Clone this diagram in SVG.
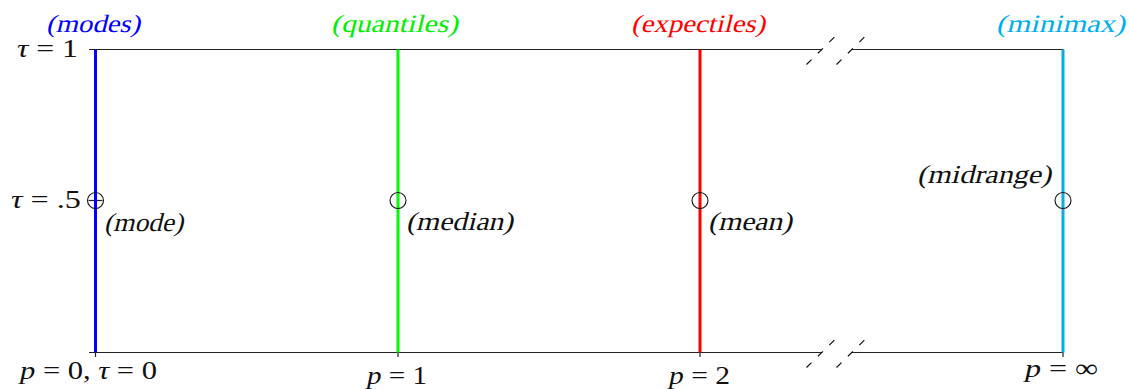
<svg xmlns="http://www.w3.org/2000/svg" width="1129" height="389" viewBox="0 0 1129 389">
<style>
text { font-family: "Liberation Serif", "Times New Roman", serif; font-size: 26px; fill: #111; }
.it { font-style: italic; }
.sk { font-style: normal; }
.top { font-size: 25px; }
.ax { stroke: #222; stroke-width: 1.2; fill: none; }
.brk { stroke: #111; stroke-width: 1.2; fill: none; stroke-dasharray: 7 9; }
.mk { stroke: #111; stroke-width: 1.1; fill: none; }
.v { stroke-width: 3; fill: none; }
</style>
<defs>
  <path id="slash" class="brk" d="M806.5,64.5 L834.5,37"/>
</defs>
<rect width="1129" height="389" fill="#fff"/>
<g id="connectors">
  <path class="ax" d="M89,49.5 H822 M851,49.5 H1063.5"/>
  <path class="ax" d="M89,352.5 H822 M851,352.5 H1063.5"/>
  <path class="ax" d="M88.5,200.5 H102.5"/>
  <path class="ax" d="M95.5,352.5 V357 M398,352.5 V357 M700,352.5 V357 M1063,352.5 V357"/>
  <use href="#slash"/>
  <use href="#slash" transform="translate(30,0)"/>
  <use href="#slash" transform="translate(0,303)"/>
  <use href="#slash" transform="translate(30,303)"/>
</g>
<g id="modes">
  <line class="v" x1="95.5" y1="49.5" x2="95.5" y2="352.5" stroke="#0000ff"/>
  <circle class="mk" cx="95.5" cy="200.5" r="8"/>
  <text class="sk top" transform="translate(46,32) skewX(-14)" textLength="94" lengthAdjust="spacingAndGlyphs" style="fill:#0000ff">(modes)</text>
  <text class="sk" transform="translate(104,231) skewX(-14)" textLength="79" lengthAdjust="spacingAndGlyphs">(mode)</text>
</g>
<g id="quantiles">
  <line class="v" x1="398" y1="49.5" x2="398" y2="352.5" stroke="#00ff00"/>
  <circle class="mk" cx="398" cy="200.5" r="8"/>
  <text class="sk top" transform="translate(331,32) skewX(-14)" textLength="127" lengthAdjust="spacingAndGlyphs" style="fill:#00ee00">(quantiles)</text>
  <text class="sk" transform="translate(406,230) skewX(-14)" textLength="107" lengthAdjust="spacingAndGlyphs">(median)</text>
</g>
<g id="expectiles">
  <line class="v" x1="700" y1="49.5" x2="700" y2="352.5" stroke="#ff0000"/>
  <circle class="mk" cx="700" cy="200.5" r="8"/>
  <text class="sk top" transform="translate(631,32) skewX(-14)" textLength="134" lengthAdjust="spacingAndGlyphs" style="fill:#ff0000">(expectiles)</text>
  <text class="sk" transform="translate(708,230) skewX(-14)" textLength="84" lengthAdjust="spacingAndGlyphs">(mean)</text>
</g>
<g id="minimax">
  <line class="v" x1="1063" y1="49.5" x2="1063" y2="352.5" stroke="#00aeef"/>
  <circle class="mk" cx="1063" cy="200.5" r="8"/>
  <text class="sk top" transform="translate(996,32) skewX(-14)" textLength="129" lengthAdjust="spacingAndGlyphs" style="fill:#00aeef">(minimax)</text>
  <text class="sk" transform="translate(917,183) skewX(-14)" textLength="134" lengthAdjust="spacingAndGlyphs">(midrange)</text>
</g>
<g id="labels">
  <text x="17" y="57" textLength="61" lengthAdjust="spacingAndGlyphs"><tspan class="it">τ</tspan> = 1</text>
  <text x="11" y="208" textLength="70" lengthAdjust="spacingAndGlyphs"><tspan class="it">τ</tspan> = .5</text>
  <text x="20" y="379" textLength="137" lengthAdjust="spacingAndGlyphs"><tspan class="it">p</tspan> = 0, <tspan class="it">τ</tspan> = 0</text>
  <text x="367" y="384" textLength="60" lengthAdjust="spacingAndGlyphs"><tspan class="it">p</tspan> = 1</text>
  <text x="669" y="384" textLength="61" lengthAdjust="spacingAndGlyphs"><tspan class="it">p</tspan> = 2</text>
  <text x="1025" y="377" textLength="73" lengthAdjust="spacingAndGlyphs"><tspan class="it">p</tspan> = ∞</text>
</g>
</svg>
